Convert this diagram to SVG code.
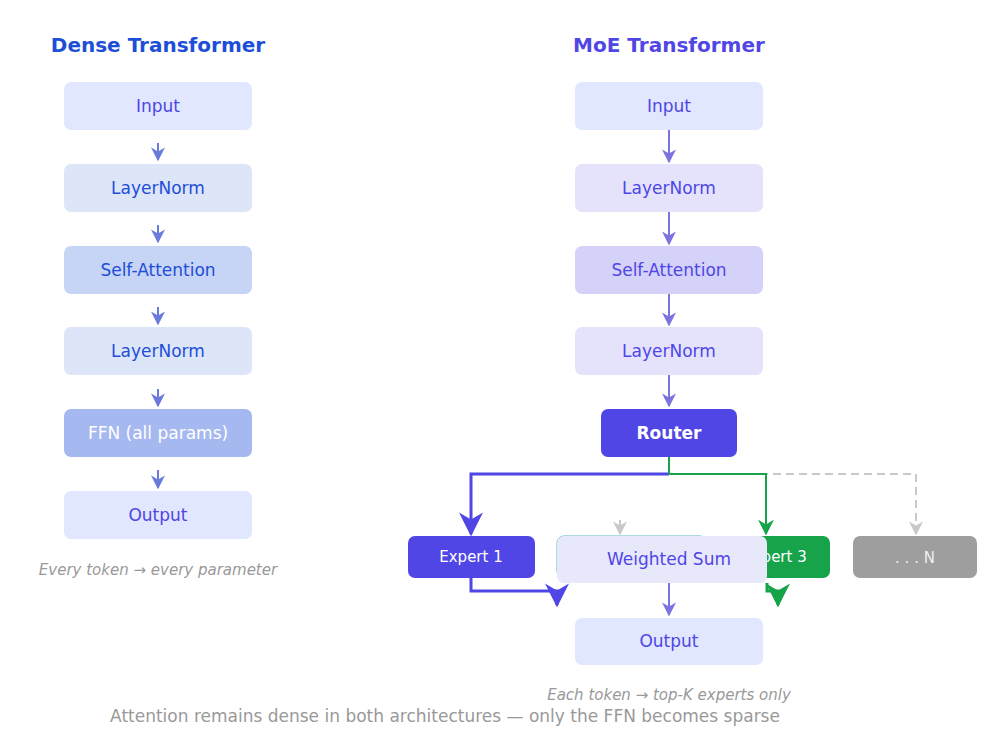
<svg xmlns="http://www.w3.org/2000/svg" width="998" height="755" viewBox="0 0 998 755">
<style>
text{font-family:"DejaVu Sans","Noto Sans",sans-serif;text-anchor:middle;dominant-baseline:central}
.l{font-size:17px}
.t{font-size:20px;font-weight:bold}
</style>
<defs>
<marker id="ab" viewBox="0 0 10 10" refX="9" refY="5" markerWidth="7" markerHeight="7" orient="auto-start-reverse"><path d="M0,0 L10,5 L0,10 L3,5z" fill="#6b7bdc"/></marker>
<marker id="ap" viewBox="0 0 10 10" refX="9" refY="5" markerWidth="7" markerHeight="7" orient="auto-start-reverse"><path d="M0,0 L10,5 L0,10 L3,5z" fill="#7b73e0"/></marker>
<marker id="ai" viewBox="0 0 10 10" refX="9" refY="5" markerWidth="8" markerHeight="8" orient="auto-start-reverse"><path d="M0,0 L10,5 L0,10 L3,5z" fill="#4f46e5"/></marker>
<marker id="ag" viewBox="0 0 10 10" refX="9" refY="5" markerWidth="8" markerHeight="8" orient="auto-start-reverse"><path d="M0,0 L10,5 L0,10 L3,5z" fill="#16a34a"/></marker>
<marker id="ay" viewBox="0 0 10 10" refX="9" refY="5" markerWidth="7" markerHeight="7" orient="auto-start-reverse"><path d="M0,0 L10,5 L0,10 L3,5z" fill="#c8c8c8"/></marker>
</defs>
<text x="158" y="45" class="t" fill="#1d4ed8">Dense Transformer</text>
<text x="669" y="45" class="t" fill="#4f46e5">MoE Transformer</text>
<g id="d-input"><rect x="64" y="82" width="188" height="48" rx="7" fill="#e0e7ff"/><text x="158" y="106" class="l" fill="#4f46e5">Input</text></g>
<g id="d-ln1"><rect x="64" y="164" width="188" height="48" rx="7" fill="#dde5f9"/><text x="158" y="188" class="l" fill="#1d4ed8">LayerNorm</text></g>
<g id="d-sa"><rect x="64" y="246" width="188" height="48" rx="7" fill="#c6d4f5"/><text x="158" y="270" class="l" fill="#1d4ed8">Self-Attention</text></g>
<g id="d-ln2"><rect x="64" y="327" width="188" height="48" rx="7" fill="#dde5f9"/><text x="158" y="351" class="l" fill="#1d4ed8">LayerNorm</text></g>
<g id="d-ffn"><rect x="64" y="409" width="188" height="48" rx="7" fill="#a5b8f0"/><text x="158" y="433" class="l" fill="#ffffff">FFN (all params)</text></g>
<g id="d-out"><rect x="64" y="491" width="188" height="48" rx="7" fill="#e0e7ff"/><text x="158" y="515" class="l" fill="#4f46e5">Output</text></g>
<text x="158" y="570" font-size="15" font-style="italic" fill="#999">Every token → every parameter</text>

<g id="m-input"><rect x="575" y="82" width="188" height="48" rx="7" fill="#e0e7ff"/><text x="669" y="106" class="l" fill="#4f46e5">Input</text></g>
<g id="m-ln1"><rect x="575" y="164" width="188" height="48" rx="7" fill="#e5e3fb"/><text x="669" y="188" class="l" fill="#4f46e5">LayerNorm</text></g>
<g id="m-sa"><rect x="575" y="246" width="188" height="48" rx="7" fill="#d4d2f8"/><text x="669" y="270" class="l" fill="#4f46e5">Self-Attention</text></g>
<g id="m-ln2"><rect x="575" y="327" width="188" height="48" rx="7" fill="#e5e3fb"/><text x="669" y="351" class="l" fill="#4f46e5">LayerNorm</text></g>
<g id="router"><rect x="601" y="409" width="136" height="48" rx="7" fill="#4f46e5"/><text x="669" y="433" class="l" font-weight="bold" fill="#fff">Router</text></g>
<g id="e1"><rect x="408" y="536" width="127" height="42" rx="7" fill="#4f46e5"/><text x="471" y="557" font-size="15" fill="#fff">Expert 1</text></g>
<g id="e2"><rect x="557" y="536" width="150" height="42" rx="7" fill="#e8e8fb" stroke="#5ab4c4"/></g>
<g id="e3"><rect x="720" y="536" width="110" height="42" rx="7" fill="#16a34a"/><text x="775" y="557" font-size="15" fill="#fff">Expert 3</text></g>
<g id="en"><rect x="853" y="536" width="124" height="42" rx="7" fill="#9e9e9e"/><text x="915" y="558" font-size="15" fill="#eee">. . . N</text></g>
<g id="wsum"><rect x="557" y="536" width="210" height="47" rx="7" fill="#e8e8fb"/><text x="669" y="559" class="l" fill="#4f46e5">Weighted Sum</text></g>
<g id="m-out"><rect x="575" y="618" width="188" height="47" rx="7" fill="#e0e7ff"/><text x="669" y="641" class="l" fill="#4f46e5">Output</text></g>
<text x="669" y="695" font-size="15" font-style="italic" fill="#999">Each token → top-K experts only</text>
<text x="445" y="716" font-size="17" fill="#999">Attention remains dense in both architectures — only the FFN becomes sparse</text>

<g id="connectors" fill="none" stroke-width="2">
<g stroke="#6b7bdc" marker-end="url(#ab)"><path d="M158,143 V160"/><path d="M158,225 V242"/><path d="M158,307 V324"/><path d="M158,389 V406"/><path d="M158,470 V488"/></g>
<g stroke="#7b73e0" marker-end="url(#ap)"><path d="M669,130 V162"/><path d="M669,212 V244"/><path d="M669,294 V325"/><path d="M669,375 V406"/><path d="M669,583 V615"/></g>
<path d="M669,474 H916 V534" stroke="#c8c8c8" stroke-dasharray="8,5" marker-end="url(#ay)"/>
<path d="M620,520 V534" stroke="#c8c8c8" marker-end="url(#ay)"/>
<path d="M669,474 H471 V534" stroke="#4f46e5" stroke-width="3" marker-end="url(#ai)"/>
<path d="M669,457 V474 H766 V534" stroke="#16a34a" marker-end="url(#ag)"/>
<path d="M471,578 V591 H557 V605" stroke="#4f46e5" stroke-width="3" marker-end="url(#ai)"/>
<path d="M767,583 V591 H778 V605" stroke="#16a34a" stroke-width="3" marker-end="url(#ag)"/>
</g>
</svg>
